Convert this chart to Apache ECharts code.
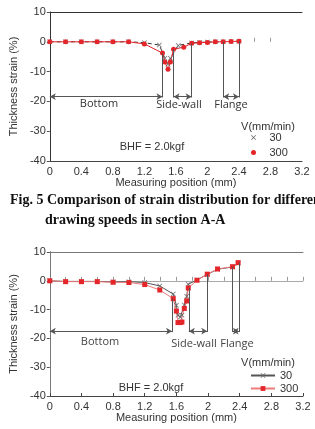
<!DOCTYPE html>
<html>
<head>
<meta charset="utf-8">
<script src="https://cdn.jsdelivr.net/npm/echarts@6/dist/echarts.min.js"></script>
<style>
html,body{margin:0;padding:0;background:#fff}
#chart{width:315px;height:429px}
</style>
</head>
<body>
<div id="chart"></div>
<script>
// x tick labels shared by both plots
var xTicks = [0, 0.4, 0.8, 1.2, 1.6, 2, 2.4, 2.8, 3.2];
var yTicks = [10, 0, -10, -20, -30, -40];

// Fig.5 (section A-A)
var posA300 = [0, 0.2, 0.4, 0.6, 0.8, 1.0, 1.2, 1.43, 1.46, 1.50, 1.53, 1.57, 1.70, 1.80, 1.90, 2.00, 2.10, 2.20, 2.30, 2.40];
var strainA300 = [0, 0, 0, 0, 0, 0, -0.7, -3.8, -6.8, -9.2, -6.8, -2.5, -1.8, -0.5, -0.3, -0.2, 0, 0, 0.1, 0.2];
var posA30 = [0, 0.2, 0.4, 0.6, 0.8, 1.0, 1.2, 1.39, 1.46, 1.50, 1.53, 1.63, 1.80, 1.90, 2.00, 2.10, 2.20, 2.30, 2.40];
var strainA30 = [0, 0, 0, 0, 0, 0, -0.3, -1.1, -5.5, -7.5, -5.5, -1.2, -0.4, -0.2, -0.1, 0, 0, 0.1, 0.2];
var wallsA = [1.43, 1.57, 1.80, 2.20, 2.40];
var wallTopA = [-3.8, -2.5, -0.5, 0, 0.2];
var arrowYA = -18.4;

// second plot
var posB = [0, 0.2, 0.4, 0.6, 0.8, 1.0, 1.2, 1.39, 1.56, 1.60, 1.62, 1.65, 1.67, 1.70, 1.73, 1.75, 1.86, 1.99, 2.12, 2.31, 2.38];
var strainB300 = [0, -0.3, -0.3, -0.3, -0.5, -0.6, -1.3, -3.2, -6.2, -10.5, -14.5, -14.5, -14.3, -9.6, -7.0, -2.5, 0.2, 2.3, 4.1, 4.9, 6.3];
var strainB30 = [0, -0.2, -0.2, -0.2, -0.4, -0.3, -0.6, -1.8, -4.6, -8.5, -12.0, -12.6, -12.0, -8.4, -5.4, -1.2, 0.3, 2.2, 4.0, 4.8, 6.1];
var wallsB = [1.545, 1.757, 1.99, 2.31, 2.39];
var wallTopB = [-6.2, -2.5, 2.3, 4.9, 6.3];
var arrowYB = -17.5;

var RED = '#e4262b', GREY = '#666';
var FONT = '"Liberation Sans", Arial, sans-serif';
var xMark = 'path://M0,1L1,0L5,4L9,0L10,1L6,5L10,9L9,10L5,6L1,10L0,9L4,5Z';

function pairs(xs, ys){ return xs.map(function(x, i){ return [x, ys[i]]; }); }

function annotLines(walls, tops, ay){
  var d = [];
  walls.forEach(function(w, i){
    d.push([{coord:[w, tops[i]], symbol:'none'}, {coord:[w, ay - 0.3], symbol:'none'}]);
  });
  // bottom, side-wall, flange spans
  d.push([{coord:[0, ay]}, {coord:[walls[0], ay]}]);
  d.push([{coord:[walls[1], ay]}, {coord:[walls[2], ay]}]);
  d.push([{coord:[walls[3], ay]}, {coord:[walls[4], ay]}]);
  return d;
}

function xAxisBase(grid, nameGap){
  return {
    type:'value', gridIndex:grid, min:0, max:3.2, interval:0.4,
    name:'Measuring position (mm)', nameLocation:'middle', nameGap:nameGap,
    nameTextStyle:{fontFamily:FONT, fontSize:11, color:'#333'},
    axisLine:{onZero:false, lineStyle:{color:'#444', width:1}},
    axisTick:{show:grid === 1, inside:true, length:3, lineStyle:{color:'#444'}},
    axisLabel:{fontFamily:FONT, fontSize:11, color:'#333', margin:5},
    splitLine:{show:false}
  };
}
function yAxisBase(grid, showLine, nameGap){
  return {
    type:'value', gridIndex:grid, min:-40, max:10, interval:10,
    name:'Thickness strain (%)', nameLocation:'middle', nameGap:nameGap,
    nameTextStyle:{fontFamily:FONT, fontSize:11, color:'#333'},
    axisLine:{show:showLine, lineStyle:{color:'#555'}},
    axisTick:{show:true, length:3, lineStyle:{color:'#555'}},
    axisLabel:{fontFamily:FONT, fontSize:11, color:'#333', margin:4},
    splitLine:{show:false}
  };
}
function frameX(grid, col){
  return {type:'value', gridIndex:grid, position:'top', min:0, max:3.2,
    axisLine:{onZero:false, lineStyle:{color:col}}, axisTick:{show:false}, axisLabel:{show:false}, splitLine:{show:false}};
}
function frameY(grid, col){
  return {type:'value', gridIndex:grid, position:'right', min:-40, max:10,
    axisLine:{show:true, lineStyle:{color:col}}, axisTick:{show:false}, axisLabel:{show:false}, splitLine:{show:false}};
}
function zeroX(grid, lineCol, ticks){
  var t = {show:true, length:4, lineStyle:{color:'#999'}};
  if (ticks) t.customValues = ticks;
  return {type:'value', gridIndex:grid, min:0, max:3.2, interval:0.2,
    axisLine:{onZero:true, show:true, lineStyle:{color:lineCol}}, axisTick:t,
    axisLabel:{show:false}, splitLine:{show:false}};
}

var chart = echarts.init(document.getElementById('chart'), null, {renderer:'canvas'});
function label(x, y, s, col, font){
  return {type:'text', x:x, y:y, style:{text:s, font:font || ('11px ' + FONT), fill:col || '#333', textAlign:'center', textVerticalAlign:'middle'}};
}
var regionFont = '11px "Open Sans", sans-serif';
var capFont = 'bold 14px "Liberation Serif", "Times New Roman", serif';

chart.setOption({
  animation:false,
  grid:[
    {left:36, right:13, top:12, bottom:268},
    {left:38, right:12, top:252, bottom:33}
  ],
  xAxis:[
    xAxisBase(0, 16), frameX(0, '#333'), zeroX(0, 'rgba(0,0,0,0)', [2.6, 2.8]),
    xAxisBase(1, 16), frameX(1, '#777'), zeroX(1, '#aaa')
  ],
  yAxis:[
    yAxisBase(0, false, 26), frameY(0, '#333'),
    yAxisBase(1, true, 27), frameY(1, '#777')
  ],
  legend:[
    {orient:'vertical', left:251, top:130, padding:0, itemWidth:22, itemHeight:5, itemGap:0,
     textStyle:{fontFamily:FONT, fontSize:11, color:'#333', lineHeight:15},
     data:[{name:'30', icon:xMark}, {name:'300', icon:'circle'}]},
    {orient:'vertical', left:250, top:369, padding:0, itemWidth:24, itemHeight:6, itemGap:0,
     textStyle:{fontFamily:FONT, fontSize:11, color:'#333', lineHeight:13},
     data:['30 ', '300 ']}
  ],
  graphic:[
    label(268, 127, 'V(mm/min)'),
    label(152, 147, 'BHF = 2.0kgf'),
    label(99, 104, 'Bottom', '#333', regionFont),
    label(179, 105, 'Side-wall', '#333', regionFont),
    label(231, 105, 'Flange', '#333', regionFont),
    {type:'text', x:10, y:200, style:{text:'Fig. 5 Comparison of strain distribution for different', font:capFont, fill:'#111', textVerticalAlign:'middle'}},
    {type:'text', x:45, y:220, style:{text:'drawing speeds in section A-A', font:capFont, fill:'#111', textVerticalAlign:'middle'}},
    label(268, 363, 'V(mm/min)'),
    label(151, 388, 'BHF = 2.0kgf'),
    label(100, 342, 'Bottom', '#444', regionFont),
    label(194, 344, 'Side-wall', '#444', regionFont),
    label(237, 344, 'Flange', '#444', regionFont)
  ],
  series:[
    {name:'30', type:'line', xAxisIndex:0, yAxisIndex:0, data:pairs(posA30, strainA30),
     symbol:xMark, symbolSize:5, itemStyle:{color:GREY}, lineStyle:{color:'#333', width:1, type:[4, 3]}},
    {name:'300', type:'line', xAxisIndex:0, yAxisIndex:0, data:pairs(posA300, strainA300),
     symbol:'circle', symbolSize:5, itemStyle:{color:RED}, lineStyle:{color:RED, width:1}, z:3},
    {name:'annotA', type:'line', xAxisIndex:0, yAxisIndex:0, data:[], silent:true,
     markLine:{silent:true, symbol:['arrow', 'arrow'], symbolSize:[5, 6], animation:false,
       lineStyle:{color:'#555', width:1, type:'solid'}, label:{show:false}, emphasis:{disabled:true},
       data:annotLines(wallsA, wallTopA, arrowYA)}},
    {name:'30 ', type:'line', xAxisIndex:3, yAxisIndex:2, data:pairs(posB, strainB30),
     symbol:xMark, symbolSize:5, itemStyle:{color:GREY}, lineStyle:{color:'#555', width:1}},
    {name:'300 ', type:'line', xAxisIndex:3, yAxisIndex:2, data:pairs(posB, strainB300),
     symbol:'rect', symbolSize:5, itemStyle:{color:RED}, lineStyle:{color:'#f07a7a', width:1}, z:3},
    {name:'annotB', type:'line', xAxisIndex:3, yAxisIndex:2, data:[], silent:true,
     markLine:{silent:true, symbol:['arrow', 'arrow'], symbolSize:[5, 6], animation:false,
       lineStyle:{color:'#555', width:1, type:'solid'}, label:{show:false}, emphasis:{disabled:true},
       data:annotLines(wallsB, wallTopB, arrowYB)}}
  ]
});
</script>
</body>
</html>
